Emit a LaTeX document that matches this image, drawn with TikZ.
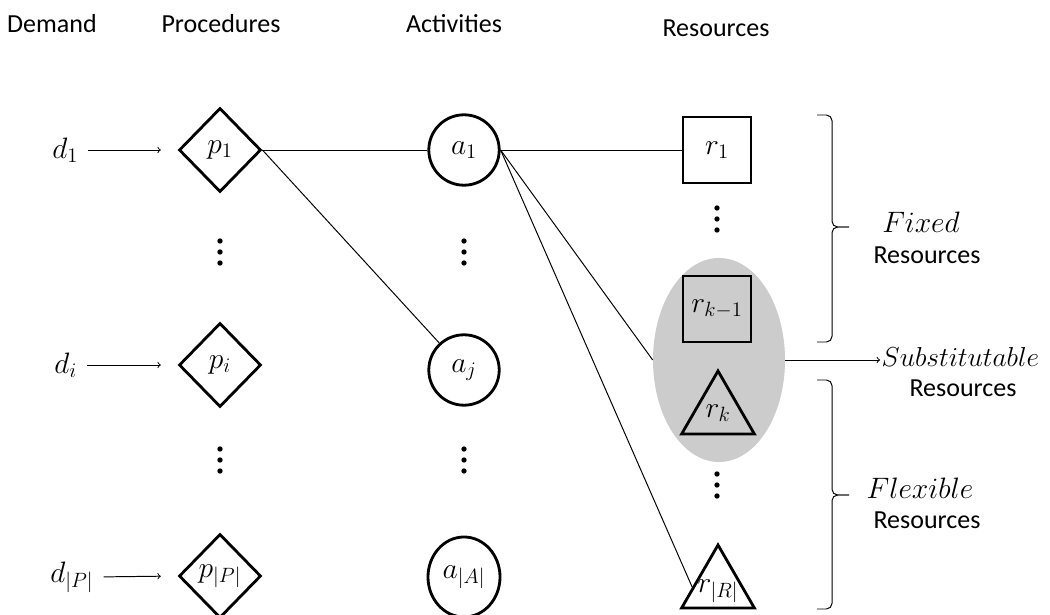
\RequirePackage{fix-cm}
\documentclass[tikz,border=0pt]{standalone}
\usepackage{fontspec}
\setmainfont{Carlito}
\usetikzlibrary{shapes.geometric}

\tikzset{
  txt/.style={font=\fontsize{18.5}{22}\selectfont},
  proc/.style={diamond, draw, line width=2pt, inner sep=0pt,
    minimum width=2.05cm, minimum height=2.1cm},
  act/.style={circle, draw, line width=2pt, inner sep=0pt, minimum size=1.76cm},
  fixres/.style={rectangle, draw, line width=2pt, inner sep=0pt,
    minimum width=1.7cm, minimum height=1.65cm},
  flexres/.style={regular polygon, regular polygon sides=3, draw,
    line width=2pt, inner sep=0pt, minimum size=2.1cm},
  demand/.style={anchor=west, inner sep=0pt},
  link/.style={line width=0.7pt},
  feed/.style={->, line width=0.7pt, shorten <=0.25cm, shorten >=0.42cm},
  grp/.style={line width=0.7pt, rounded corners=4pt}
}

\begin{document}
\begin{tikzpicture}[x=0.025cm, y=-0.025cm, font=\fontsize{21}{24}\selectfont]
  \useasboundingbox (0,0) rectangle (1050,615);

  % column heads
  \node (hdem) [txt] at (52,24) {Demand};
  \node (hproc) [txt] at (221,24) {Procedures};
  \node (hact) [txt] at (454,24) {Activities};
  \node (hres) [txt] at (716,28) {Resources};

  % substitutable group (behind)
  \node (sub) [ellipse, fill=black!20, minimum width=3.3cm, minimum height=5.1cm] at (719,360) {};

  % demand
  \node (d1) [demand] at (52,150) {$d_1$};
  \node (di) [demand] at (54,365) {$d_i$};
  \node (dP) [demand] at (50,577) {$d_{|P|}$};

  % procedures
  \node (p1) [proc] at (220,150) {$p_1$};
  \node (pi) [proc] at (220,365) {$p_i$};
  \node (pP) [proc] at (220,576) {$p_{|P|}$};

  % activities
  \node (a1) [act] at (464,150) {$a_1$};
  \node (aj) [act] at (464,370) {$a_j$};
  \node (aA) [ellipse, draw, line width=2pt, inner sep=0pt,
    minimum width=1.8cm, minimum height=2.0cm] at (464,577) {$a_{|A|}$};

  % resources
  \node (r1) [fixres] at (717,150) {$r_1$};
  \node (rkm) [fixres] at (717,309) {$r_{k-1}$};
  \node (rk) [flexres, label=center:{$r_k$}] at (718,413) {};
  \node (rR) [flexres, label={[yshift=-3pt]center:{$r_{|R|}$}}] at (718,587) {};

  % dots
  \foreach \x/\y in {220/252, 220/460, 464/252, 464/460, 717/219, 717/485}
    \foreach \dy in {-11,0,11}
      \fill (\x,\y+\dy) circle (1.9pt);

  % demand arrows
  \draw[feed] (d1.east) -- (p1.west);
  \draw[feed] (di.east) -- (pi.west);
  \draw[feed] (dP.east) -- (pP.west);

  % links
  \draw[link] (p1.east) -- (a1);
  \draw[link] (p1.east) -- (aj);
  \draw[link] (a1) -- (r1);
  \draw[link] (a1.east) -- (sub.west);
  \draw[link] (a1.east) -- (rR.west);

  % groups
  \coordinate (fixtop) at (817,115);
  \coordinate (fixbot) at (817,342);
  \coordinate (flextop) at (817,380);
  \coordinate (flexbot) at (817,609);
  \draw[grp] (fixtop) -- ++(15,0) -- ++(0,112) -- ++(17,0);
  \draw[grp] (fixbot) -- ++(15,0) -- ++(0,-115) -- ++(17,0);
  \draw[grp] (flextop) -- ++(15,0) -- ++(0,115) -- ++(17,0);
  \draw[grp] (flexbot) -- ++(15,0) -- ++(0,-114) -- ++(17,0);

  \node (fixlbl) at (921,222) {$Fixed$};
  \node (fixres) [txt] at (927,255) {Resources};
  \node (flexlbl) at (920,488) {$Flexible$};
  \node (flexres) [txt] at (927,520) {Resources};
  \node (sublbl) [anchor=west, inner sep=1pt, font=\fontsize{19.5}{23}\selectfont] at (880,357) {$Substitutable$};
  \node (subres) [txt] at (963,388) {Resources};
  \draw[->, line width=0.7pt] (sub.east) -- (sub.east -| sublbl.west);
\end{tikzpicture}
\end{document}
